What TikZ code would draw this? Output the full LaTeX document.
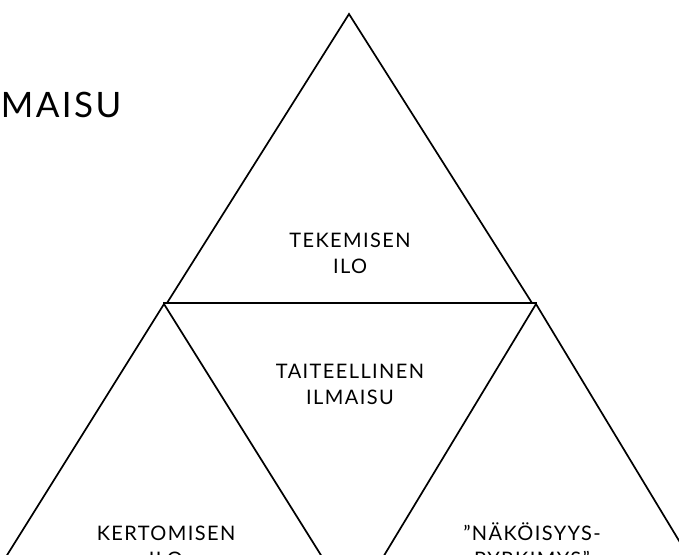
\documentclass[tikz,border=0pt]{standalone}
\usepackage{fontspec}
\setmainfont{Lato}[LetterSpace=7]

\begin{document}
\begin{tikzpicture}[x=1pt,y=-1pt,line width=1.7pt,
    lbl/.style={align=center,anchor=base,inner sep=0pt,
      font=\fontsize{20}{26}\selectfont}]
                \useasboundingbox (0,0) rectangle (679,554);
                \clip (0,0) rectangle (679,554);
                % top triangle
                \coordinate (top) at (349,14);
                \coordinate (topL) at (167,303);
                \coordinate (topR) at (532,303);
                \draw (topL) -- (top) -- (topR);
                % middle line
                \coordinate (midL) at (163,303);
                \coordinate (midR) at (537,303);
                \draw (midL) -- (midR);
                % lower triangles
                \coordinate (lowL) at (164,304);
                \coordinate (lowR) at (536,304);
                \draw (-16,592) -- (lowL) -- (344,592);
                \draw (362,592) -- (lowR) -- (710,592);
                % texts (base = last line)
                \node[anchor=base west,inner sep=0pt,font=\fontsize{35}{40}\selectfont] (title) at (0,117) {MAISU};
                \node[lbl] (tekem) at (350,273) {TEKEMISEN\\ILO};
                \node[lbl] (taide) at (350,404) {TAITEELLINEN\\ILMAISU};
                \node[lbl] (kerto) at (166,566) {KERTOMISEN\\ILO};
                \node[lbl] (nako) at (532,566) {”NÄKÖISYYS-\\PYRKIMYS”};
            \end{tikzpicture}
\end{document}
